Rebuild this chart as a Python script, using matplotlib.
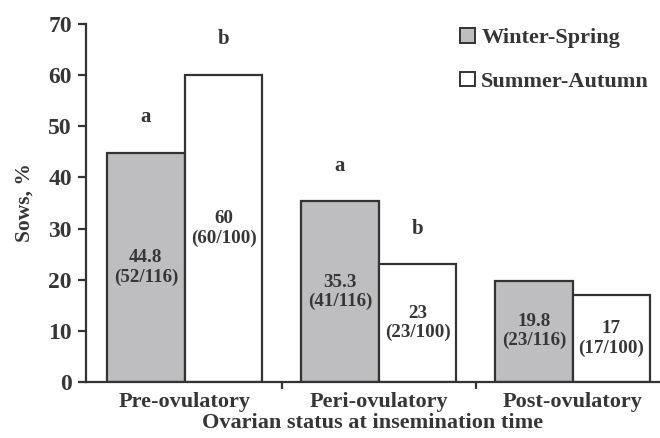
import matplotlib
matplotlib.use("Agg")
import matplotlib.pyplot as plt
import numpy as np
from matplotlib.patches import Patch

categories = ["Pre-ovulatory", "Peri-ovulatory", "Post-ovulatory"]
winter_spring = [44.8, 35.3, 19.8]
summer_autumn = [60, 23, 17]
ws_counts = ["(52/116)", "(41/116)", "(23/116)"]
sa_counts = ["(60/100)", "(23/100)", "(17/100)"]
ws_letters = ["a", "a", ""]
sa_letters = ["b", "b", ""]
y_ticks = [0, 10, 20, 30, 40, 50, 60, 70]

plt.rcParams["font.family"] = ["Liberation Serif", "DejaVu Serif"]
plt.rcParams["font.weight"] = "bold"

text_col = "#363636"
edge_col = "#333333"
gray = "#bebec0"

fig = plt.figure(figsize=(6.6, 4.38), dpi=100)
ax = fig.add_axes([0.130, 0.128, 0.870, 0.817])

x = np.arange(len(categories))
w = 0.4
ax.bar(x - w / 2, winter_spring, w, color=gray, edgecolor=edge_col, linewidth=1.6, zorder=2)
ax.bar(x + w / 2, summer_autumn, w, color="white", edgecolor=edge_col, linewidth=1.6, zorder=2)

def fmt(v):
    return f"{v:g}"

for i in range(len(categories)):
    for xc, v, cnt, let in [(x[i] - w / 2, winter_spring[i], ws_counts[i], ws_letters[i]),
                            (x[i] + w / 2, summer_autumn[i], sa_counts[i], sa_letters[i])]:
        ax.text(xc, v / 2, f"{fmt(v)}\n{cnt}", ha="center", va="center",
                fontsize=13.7, fontweight="bold", color=text_col, linespacing=1.15)
        if let:
            ax.text(xc, v + 7, let, ha="center", va="center",
                    fontsize=15, fontweight="bold", color=text_col)

ax.set_xlim(-0.51, 2.45)
ax.set_ylim(0, 70)
ax.set_yticks(y_ticks)
ax.set_xticks([0.5, 1.5])
ax.set_xticklabels([])
ax.set_xticks(x, minor=True)
ax.set_xticklabels(categories, minor=True)
ax.tick_params(axis="x", which="minor", length=0, pad=7, labelsize=16, labelcolor=text_col)
ax.tick_params(axis="x", which="major", length=5, width=1.6, direction="out", color=edge_col)
ax.tick_params(axis="y", length=6, width=1.6, direction="out", color=edge_col,
               labelsize=17, labelcolor=text_col, pad=4)
for lab in ax.get_yticklabels() + ax.get_xticklabels(minor=True):
    lab.set_fontweight("bold")

for side in ["top", "right"]:
    ax.spines[side].set_visible(False)
for side in ["left", "bottom"]:
    ax.spines[side].set_linewidth(1.6)
    ax.spines[side].set_color(edge_col)

ax.set_ylabel("Sows, %", fontsize=15.5, fontweight="bold", color=text_col, labelpad=10)
ax.set_xlabel("Ovarian status at insemination time", fontsize=16, fontweight="bold",
              color=text_col, labelpad=1)

handles = [Patch(facecolor=gray, edgecolor=edge_col, linewidth=1.4, label="Winter-Spring"),
           Patch(facecolor="white", edgecolor=edge_col, linewidth=1.4, label="Summer-Autumn")]
leg = ax.legend(handles=handles, loc="upper left", bbox_to_anchor=(0.617, 1.045), frameon=False,
                handlelength=0.65, handleheight=0.65, handletextpad=0.3, labelspacing=1.05,
                prop={"size": 16, "weight": "bold"})
for t in leg.get_texts():
    t.set_color(text_col)

fig.savefig("out.png", dpi=100)
